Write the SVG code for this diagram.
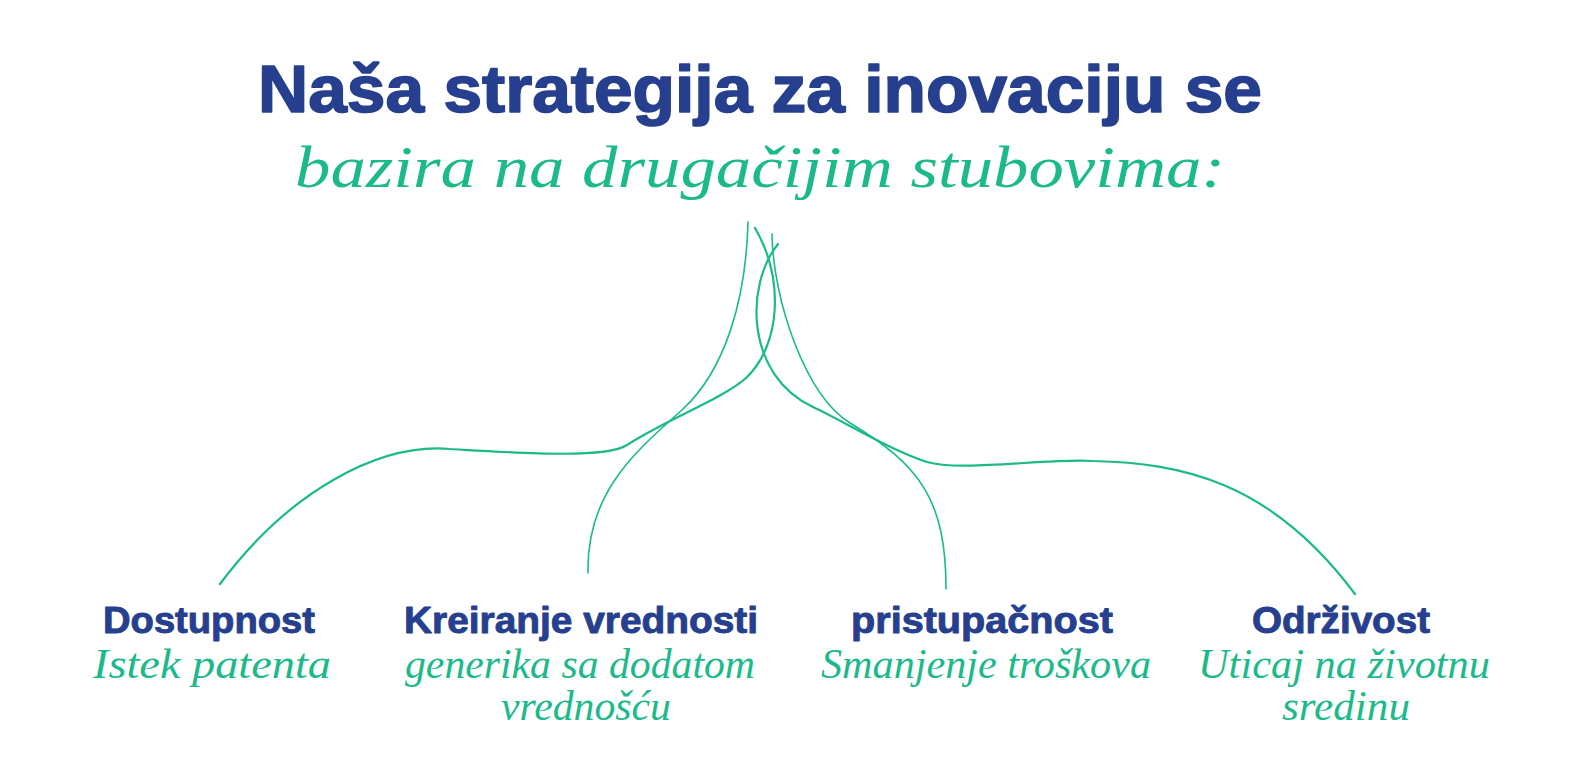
<svg xmlns="http://www.w3.org/2000/svg" width="1581" height="778" viewBox="0 0 1581 778">
<style>
.title{font-family:"Liberation Sans",Arial,sans-serif;font-weight:bold;fill:#263f8e;stroke:#263f8e;stroke-width:1.6;stroke-linejoin:round}
.script{font-family:"Liberation Serif","Times New Roman",serif;font-style:italic;fill:#1cb98b}
.head{font-family:"Liberation Sans",Arial,sans-serif;font-weight:bold;fill:#263f8e;font-size:36px;stroke:#263f8e;stroke-width:0.9;stroke-linejoin:round}
.sub{font-family:"Liberation Serif","Times New Roman",serif;font-style:italic;fill:#1cb98b;font-size:42px}
.wave{fill:none;stroke:#1cb98b;stroke-width:2.2;stroke-linecap:round}
.stem{fill:none;stroke:#1cb98b;stroke-width:1.6;stroke-linecap:round}
</style>
<rect width="1581" height="778" fill="#ffffff"/>
<g id="title">
<text class="title" x="760" y="112" font-size="66" text-anchor="middle" textLength="1004" lengthAdjust="spacingAndGlyphs">Naša strategija za inovaciju se</text>
<text class="script" x="760" y="187" font-size="60" text-anchor="middle" textLength="930" lengthAdjust="spacingAndGlyphs">bazira na drugačijim stubovima:</text>
</g>
<g id="connectors">
<path class="stem" d="M748,222 C746,300 725,370 683,409 C640,448 586,490 588,573"/>
<path class="wave" d="M755,228 C785,280 780,345 747,377 C725,398 665,420 627,445 C605,459 520,453 450,449 C380,443 290,490 220,584"/>
<path class="stem" d="M772,234 C773,300 805,395 850,423 C920,465 946,500 946,589"/>
<path class="wave" d="M778,244 C745,285 745,375 813,407 C845,422 890,450 927,462 C960,472 1050,458 1093,461 C1180,463 1270,480 1355,594"/>
</g>
<g id="node-dostupnost">
<text class="head" x="209" y="633" text-anchor="middle" textLength="212" lengthAdjust="spacingAndGlyphs">Dostupnost</text>
<text class="sub" x="212" y="678" text-anchor="middle" textLength="238" lengthAdjust="spacingAndGlyphs">Istek patenta</text>
</g>
<g id="node-kreiranje">
<text class="head" x="581" y="633" text-anchor="middle" textLength="354" lengthAdjust="spacingAndGlyphs">Kreiranje vrednosti</text>
<text class="sub" x="580" y="678" text-anchor="middle" textLength="350" lengthAdjust="spacingAndGlyphs">generika sa dodatom</text>
<text class="sub" x="586" y="720" text-anchor="middle" textLength="170" lengthAdjust="spacingAndGlyphs">vrednošću</text>
</g>
<g id="node-pristupacnost">
<text class="head" x="982" y="633" text-anchor="middle" textLength="262" lengthAdjust="spacingAndGlyphs">pristupačnost</text>
<text class="sub" x="986" y="678" text-anchor="middle" textLength="330" lengthAdjust="spacingAndGlyphs">Smanjenje troškova</text>
</g>
<g id="node-odrzivost">
<text class="head" x="1341" y="633" text-anchor="middle" textLength="178" lengthAdjust="spacingAndGlyphs">Održivost</text>
<text class="sub" x="1344" y="678" text-anchor="middle" textLength="292" lengthAdjust="spacingAndGlyphs">Uticaj na životnu</text>
<text class="sub" x="1346" y="720" text-anchor="middle" textLength="128" lengthAdjust="spacingAndGlyphs">sredinu</text>
</g>
</svg>
